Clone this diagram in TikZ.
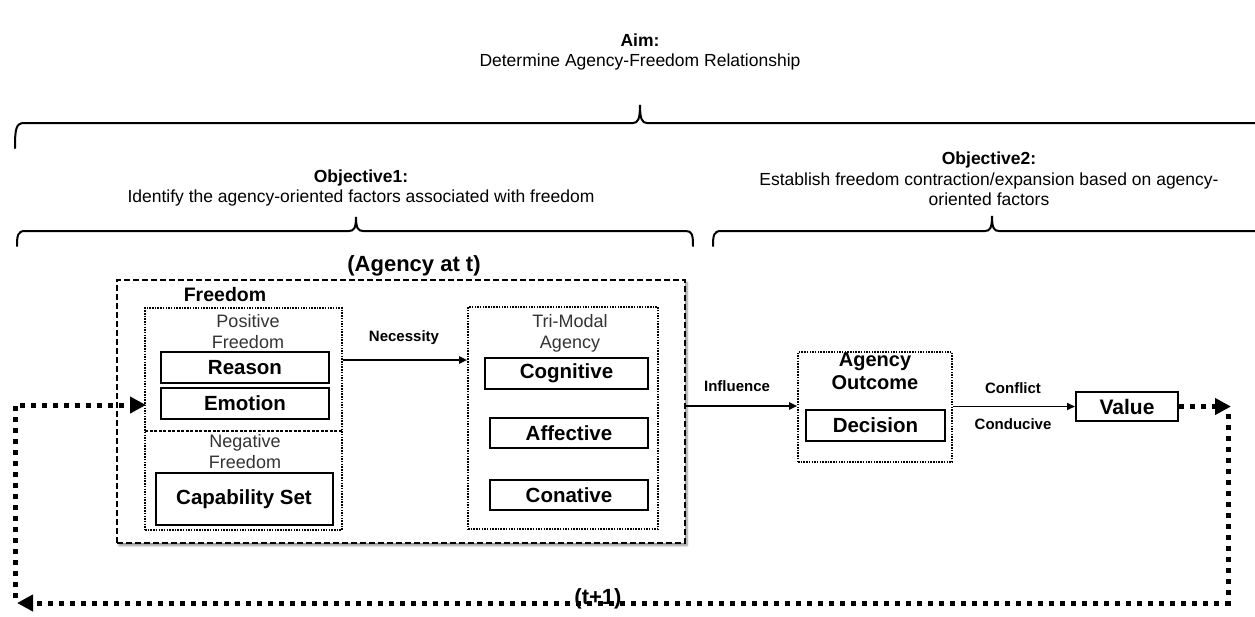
\documentclass[tikz,border=0pt]{standalone}
\usepackage{fontspec}
\setmainfont{Liberation Sans}
\usetikzlibrary{arrows.meta,shadows.blur}
\newcommand\fsz[2]{\fontsize{#1}{#2}\selectfont}
\begin{document}
\begin{tikzpicture}[x=1pt,y=-1pt,
  lbl/.style={draw, line width=2pt, font=\bfseries\fsz{20.5}{24}, inner sep=0pt},
  dotbox/.style={draw, line width=1.6pt, dash pattern=on 1.5pt off 1.2pt, inner sep=0pt},
  plain/.style={inner sep=0pt, align=center},
  graytxt/.style={plain, text=black!80, font=\fsz{18}{21}},
  arrlbl/.style={plain, font=\bfseries\fsz{15}{18}},
  arr/.style={line width=1.8pt, -{Triangle[length=8pt,width=7pt]}},
  loopln/.style={line width=5pt, dash pattern=on 5pt off 6pt, -{Triangle[length=16pt,width=16pt]}},
  brace/.style={line width=2pt, line cap=round}
]
\useasboundingbox (0,0) rectangle (1255,616);

% title
\node[plain, font=\fsz{17.5}{20}] (aim) at (640,52) {\textbf{Aim:}\\Determine Agency-Freedom Relationship};

% braces
\draw[brace] (15,148) .. controls (15,129) and (16,123) .. (24,123) -- (633,123)
  .. controls (638,123) and (640,119) .. (640,105) .. controls (640,119) and (642,123) .. (647,123) -- (1256,123);
\draw[brace] (17,246) .. controls (17,235) and (18,231) .. (25,231) -- (349,231)
  .. controls (354,231) and (356,228) .. (356,217) .. controls (356,228) and (358,231) .. (363,231) -- (686,231)
  .. controls (692,231) and (693,235) .. (693,246);
\draw[brace] (713,246) .. controls (713,235) and (714,231) .. (721,231) -- (985,231)
  .. controls (990,231) and (992,228) .. (992,216) .. controls (992,228) and (994,231) .. (999,231) -- (1256,231);

\node[plain, font=\fsz{17.5}{19.5}] (obj1) at (361,188) {\textbf{Objective1:}\\Identify the agency-oriented factors associated with freedom};
\node[plain, font=\fsz{17.5}{20.5}] (obj2) at (989,179) {\textbf{Objective2:}\\Establish freedom contraction/expansion based on agency-\\oriented factors};

% agency at t box
\node[draw, fill=white, line width=2pt, dash pattern=on 6pt off 3pt, minimum width=568pt, minimum height=263pt,
  blur shadow={shadow xshift=2pt, shadow yshift=-2.5pt, shadow blur steps=6, shadow opacity=45}] (agbox) at (401,411.5) {};
\node[plain, font=\bfseries\fsz{22}{24}] (agt) at (414,266) {(Agency at t)};
\node[plain, font=\bfseries\fsz{19.5}{22}] (freet) at (225,295) {Freedom};

% freedom box
\node[dotbox, minimum width=197pt, minimum height=222pt] (freebox) at (243.5,419) {};
\coordinate (sepl) at (145,431);
\draw[line width=1.5pt, dash pattern=on 3pt off 1.5pt] (sepl) -- (freebox.east |- sepl);
\node[graytxt] (post) at (248,331.5) {Positive\\Freedom};
\node[graytxt] (negt) at (245,451.5) {Negative\\Freedom};
\node[lbl, minimum width=168pt, minimum height=31pt] (reason) at (245,367.5) {Reason};
\node[lbl, minimum width=168pt, minimum height=31pt] (emotion) at (245,403.5) {Emotion};
\node[lbl, minimum width=177pt, minimum height=52pt] (capset) at (244,499) {Capability Set};

% tri-modal box
\node[dotbox, minimum width=190pt, minimum height=222pt] (tribox) at (563,418) {};
\node[graytxt] (trit) at (570,333.5) {Tri-Modal\\Agency};
\node[lbl, minimum width=163pt, minimum height=31pt] (cog) at (566.5,373.5) {Cognitive};
\node[lbl, minimum width=158pt, minimum height=30pt] (aff) at (569,433) {Affective};
\node[lbl, minimum width=158pt, minimum height=30pt] (con) at (569,495) {Conative};

% necessity
\coordinate (nec) at (0,360);
\draw[arr] (freebox.east |- nec) -- (tribox.west |- nec);
\node[arrlbl] (necl) at (404,338) {Necessity};

% outcome
\node[dotbox, minimum width=154pt, minimum height=110pt] (outbox) at (875,407) {};
\node[plain, font=\bfseries\fsz{20}{23}] (outt) at (875,371.5) {Agency\\Outcome};
\node[lbl, minimum width=139pt, minimum height=31pt] (decision) at (875.5,425.5) {Decision};
\coordinate (infl) at (0,406);
\draw[arr] (agbox.east |- infl) -- (outbox.west |- infl);
\node[arrlbl] (infll) at (737,386) {Influence};

% value
\node[lbl, font=\bfseries\fsz{21}{24}, minimum width=102pt, minimum height=29pt] (value) at (1127,406.5) {Value};
\draw[arr] (outbox.east |- value.west) -- (value.west);
\node[arrlbl] (confl) at (1013,388) {Conflict};
\node[arrlbl] (cond) at (1013,424) {Conducive};

% feedback loop
\coordinate (tr) at (1231,406.5);
\coordinate (trb) at (1228,414);
\coordinate (br) at (1228,603);
\coordinate (bl) at (17,603);
\coordinate (bls) at (15,598);
\coordinate (tl) at (15,405);
\coordinate (tgt) at (146,405);
\draw[loopln] (value.east) -- (tr);
\draw[loopln] (trb) -- (br) -- (bl);
\draw[loopln] (bls) -- (tl) -- (tgt);
\node[plain, font=\bfseries\fsz{22}{24}] (t1) at (598,599) {(t+1)};
\end{tikzpicture}
\end{document}
